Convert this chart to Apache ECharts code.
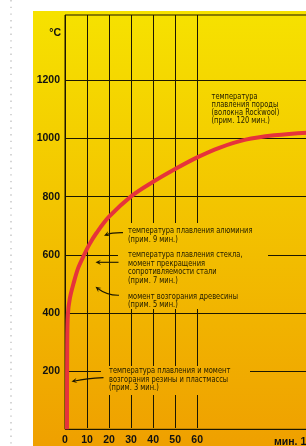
<!DOCTYPE html>
<html><head><meta charset="utf-8">
<script src="https://cdn.jsdelivr.net/npm/echarts@6/dist/echarts.min.js"></script>
<style>
html,body{margin:0;padding:0;background:#fff;overflow:hidden;}
#wrap{position:relative;width:306px;height:446px;overflow:hidden;}
#bg{position:absolute;left:33px;top:11px;width:273px;height:435px;background:linear-gradient(to bottom,#F6E200,#EFA000);}
#chart{position:absolute;left:0;top:0;width:520px;height:446px;}
</style></head><body>
<div id="wrap"><div id="bg"></div><div id="chart"></div></div>
<script>
// data
const timeMin = [0.9, 1.0, 1.3, 2.2, 3.9, 6.0, 8.5, 11, 14.2, 20, 30, 40, 50, 60, 70, 82, 95, 110, 130];
const tempC   = [0,   280, 395, 450, 502, 555, 597, 635, 674, 731, 801, 851, 895, 935, 968, 996, 1011, 1020, 1026];
const yTickLabels = [200, 400, 600, 800, 1000, 1200];
const xTickLabels = [0, 10, 20, 30, 40, 50, 60];
const yUnit = '°C';
const xUnit = 'мин. 120';
const noteRock = 'температура\nплавления породы\n(волокна Rockwool)\n(прим. 120 мин.)';
const noteAl = 'температура плавления алюминия\n(прим. 9 мин.)';
const noteGlass = 'температура плавления стекла,\nмомент прекращения\nсопротивляемости стали\n(прим. 7 мин.)';
const noteWood = 'момент возгорания древесины\n(прим. 5 мин.)';
const noteRubber = 'температура плавления и момент\nвозгорания резины и пластмассы\n(прим. 3 мин.)';

const chart = echarts.init(document.getElementById('chart'), null, {renderer: 'canvas'});
const LINE = '#1c1700';
const TXT = '#1e1a00';
const NOTE_FONT = '"Liberation Sans Narrow","DejaVu Sans Condensed","Liberation Sans",sans-serif';
const BOLD_FONT = '"Liberation Sans",Arial,sans-serif';

const bgGrad = () => new echarts.graphic.LinearGradient(0, 11, 0, 446, [
  {offset: 0, color: '#F6E200'}, {offset: 1, color: '#EFA000'}], true);

function arrow(p0, c, p1) {
  const dx = p1[0] - c[0], dy = p1[1] - c[1];
  const L = Math.hypot(dx, dy); const ux = dx / L, uy = dy / L;
  const hl = 5.5, hw = 2.6;
  const bx = p1[0] - ux * hl, by = p1[1] - uy * hl;
  const ix = p1[0] - ux * hl * 0.6, iy = p1[1] - uy * hl * 0.6;
  return [
    {type: 'bezierCurve', z: 20, shape: {x1: p0[0], y1: p0[1], x2: ix, y2: iy, cpx1: c[0], cpy1: c[1]},
     style: {stroke: LINE, lineWidth: 1.1, fill: null}},
    {type: 'polygon', z: 20, shape: {points: [p1, [bx - uy * hw, by + ux * hw], [ix, iy], [bx + uy * hw, by - ux * hw]]},
     style: {fill: LINE}}
  ];
}
function note(text, x, y, lh) {
  return {type: 'text', z: 20, x: x, y: y, scaleX: 0.81, style: {text: text, fill: TXT, font: '9.2px ' + NOTE_FONT,
    lineHeight: lh, textVerticalAlign: 'top', verticalAlign: 'top'}};
}

const graphics = [
  {type: 'line', z: 1, shape: {x1: 11, y1: 0, x2: 11, y2: 446}, style: {stroke: '#c4c4c4', lineWidth: 1.4, lineDash: [1.4, 5.3]}},
  {type: 'rect', z: 15, shape: {x: 118, y: 223, width: 150, height: 86}, style: {fill: bgGrad()}},
  {type: 'rect', z: 15, shape: {x: 101, y: 366, width: 149, height: 29}, style: {fill: bgGrad()}},
  note(noteRock, 211.5, 92.6, 7.9),
  note(noteAl, 128, 226.8, 8.4),
  note(noteGlass, 128, 250.1, 8.7),
  note(noteWood, 128, 292.5, 8.4),
  note(noteRubber, 109, 366.8, 8.4),
  ...arrow([123, 232.6], [112, 232.4], [104, 235.8]),
  ...arrow([118.5, 262.3], [108, 262.3], [95.5, 262.3]),
  ...arrow([119, 295.2], [107, 295.5], [95.5, 286.8]),
  ...arrow([103.5, 377.6], [86, 378.6], [71.5, 381.6]),
  {type: 'text', z: 20, x: 61, y: 33.5, style: {text: yUnit, fill: '#111', font: 'bold 10.5px ' + BOLD_FONT,
    textAlign: 'right', align: 'right', textVerticalAlign: 'middle', verticalAlign: 'middle'}},
  {type: 'text', z: 20, x: 274, y: 442, style: {text: xUnit, fill: '#111', font: 'bold 10.5px ' + BOLD_FONT,
    textAlign: 'left', align: 'left', textVerticalAlign: 'middle', verticalAlign: 'middle'}}
];

const W = 396.6; // 180 min
chart.setOption({
  animation: false,
  backgroundColor: 'transparent',
  grid: [
    {left: 65, top: 15, width: W, height: 414.3, show: true, borderColor: LINE, borderWidth: 1, backgroundColor: 'transparent'},
    {left: 65, top: 80.3, width: W, height: 349},
    {left: 65, top: 15, width: 132.2, height: 414.3}
  ],
  xAxis: [
    {gridIndex: 0, type: 'value', min: 0, max: 180, show: false},
    {gridIndex: 1, type: 'value', min: 0, max: 180, show: false},
    {gridIndex: 2, type: 'value', min: 0, max: 60, interval: 10,
     axisLine: {show: false}, axisTick: {show: false},
     splitLine: {show: true, lineStyle: {color: LINE, width: 1}},
     axisLabel: {show: true, margin: 7, color: '#111', fontWeight: 'bold', fontSize: 10.5, fontFamily: BOLD_FONT,
       formatter: v => xTickLabels.includes(v) ? String(v) : ''}}
  ],
  yAxis: [
    {gridIndex: 0, type: 'value', min: 0, max: 1425, show: false},
    {gridIndex: 1, type: 'value', min: 0, max: 1200, interval: 200,
     axisLine: {show: false}, axisTick: {show: false},
     splitLine: {show: true, lineStyle: {color: LINE, width: 1}},
     axisLabel: {show: true, margin: 5, color: '#111', fontWeight: 'bold', fontSize: 10.5, fontFamily: BOLD_FONT,
       formatter: v => yTickLabels.includes(v) ? String(v) : ''}},
    {gridIndex: 2, type: 'value', min: 0, max: 1, show: false}
  ],
  series: [{
    type: 'line', xAxisIndex: 1, yAxisIndex: 1, z: 5,
    data: timeMin.map((t, i) => [t, tempC[i]]),
    smooth: 0.35, symbol: 'none', clip: false,
    lineStyle: {color: '#E6333B', width: 4}
  }],
  graphic: {elements: graphics}
});
</script>
</body></html>
